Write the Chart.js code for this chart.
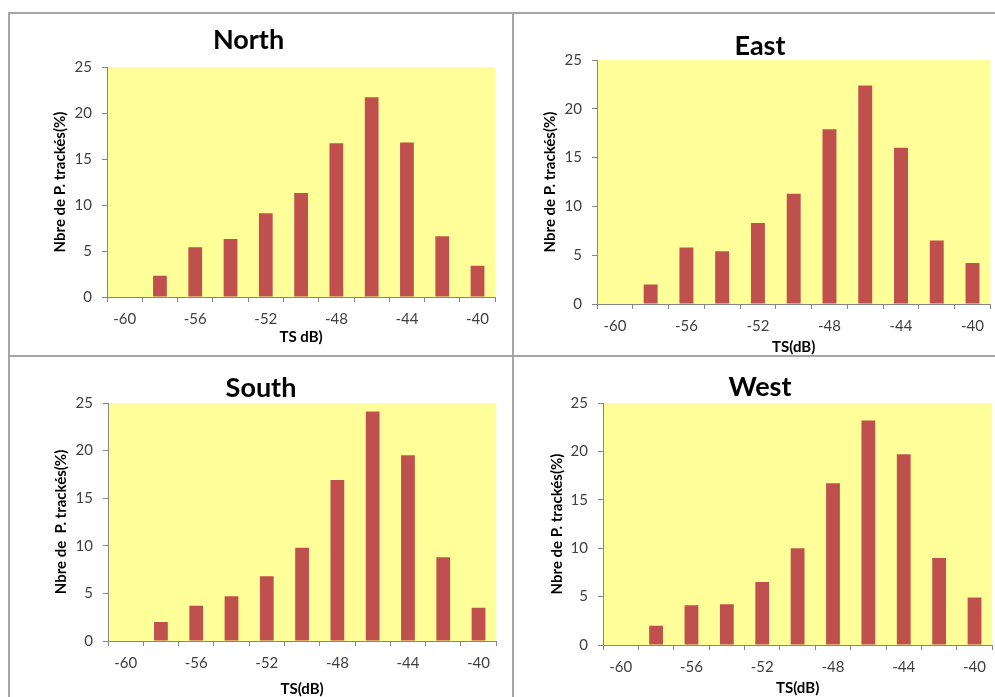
<!DOCTYPE html>
<html>
<head>
<meta charset="utf-8">
<script src="https://cdn.jsdelivr.net/npm/chart.js@4.4.1/dist/chart.umd.min.js"></script>
<style>
  html, body { margin: 0; padding: 0; background: #ffffff; }
  body { width: 995px; height: 697px; position: relative; overflow: hidden; }
  canvas { position: absolute; }
  .ln { position: absolute; background: #a6a6a6; }
</style>
</head>
<body>
<div class="ln" style="left:9px; top:12px; width:990px; height:2px;"></div>
<div class="ln" style="left:8px; top:12px; width:2px; height:690px;"></div>
<div class="ln" style="left:512px; top:12px; width:2px; height:690px;"></div>
<div class="ln" style="left:9px; top:355px; width:990px; height:2px;"></div>

<canvas id="cNorth" width="497" height="342" style="left:0px; top:13px;"></canvas>
<canvas id="cEast" width="464" height="344" style="left:528px; top:13px;"></canvas>
<canvas id="cSouth" width="474" height="340" style="left:24px; top:357px;"></canvas>
<canvas id="cWest" width="468" height="340" style="left:526px; top:357px;"></canvas>

<script>
// ---- data ----
const categories = ['-60', '-58', '-56', '-54', '-52', '-50', '-48', '-46', '-44', '-42', '-40'];
const tickLabels = ['-60', '', '-56', '', '-52', '', '-48', '', '-44', '', '-40'];
const yTicks = [0, 5, 10, 15, 20, 25];

const northValues = [0, 2.3, 5.4, 6.3, 9.1, 11.3, 16.7, 21.7, 16.8, 6.6, 3.4];
const eastValues  = [0, 2.0, 5.8, 5.4, 8.3, 11.3, 17.9, 22.4, 16.0, 6.5, 4.2];
const southValues = [0, 2.0, 3.7, 4.7, 6.8, 9.8, 16.9, 24.1, 19.5, 8.8, 3.5];
const westValues  = [0, 2.0, 4.1, 4.2, 6.5, 10.0, 16.7, 23.2, 19.7, 9.0, 4.9];

const panelTitles = ['North', 'East', 'South', 'West'];
const xTitles = ['TS dB)', 'TS(dB)', 'TS(dB)', 'TS(dB)'];
const yTitles = ['Nbre de P. trackés(%)', 'Nbre de P. trackés(%)', 'Nbre de  P. trackés(%)', 'Nbre de P. trackés(%)'];

// ---- style ----
const FONT = 'Lato, "Open Sans", "DejaVu Sans", sans-serif';
const BAR = '#c0504d';
const PLOT_BG = '#ffff99';
const AXIS = '#868686';
const TICK_TXT = '#404040';

const plotBg = {
  id: 'plotBg',
  beforeDraw(chart) {
    const a = chart.chartArea;
    const ctx = chart.ctx;
    ctx.save();
    ctx.fillStyle = PLOT_BG;
    ctx.fillRect(a.left, a.top, a.right - a.left, a.bottom - a.top);
    ctx.restore();
  }
};

function makeChart(id, idx, values, g) {
  return new Chart(document.getElementById(id), {
    type: 'bar',
    data: {
      labels: categories,
      datasets: [{
        data: values,
        backgroundColor: BAR,
        borderWidth: 0,
        barPercentage: 0.39,
        categoryPercentage: 1.0
      }]
    },
    plugins: [plotBg],
    options: {
      responsive: false,
      animation: false,
      devicePixelRatio: 1,
      layout: { padding: { left: 0, right: g.padRight, top: 0, bottom: 0 } },
      plugins: {
        legend: { display: false },
        tooltip: { enabled: false },
        title: {
          display: true,
          text: panelTitles[idx],
          color: '#000000',
          font: { family: FONT, size: 27, weight: 'bold', lineHeight: 1.0 },
          padding: { top: g.tTop, bottom: g.tBot }
        }
      },
      scales: {
        x: {
          offset: true,
          grid: { display: true, offset: true, drawOnChartArea: false, drawTicks: true, tickLength: 5, color: AXIS },
          border: { display: true, color: AXIS, width: 1 },
          ticks: {
            autoSkip: false, maxRotation: 0, minRotation: 0, padding: 8,
            color: TICK_TXT, font: { family: FONT, size: 15 },
            callback: (v, i) => tickLabels[i]
          },
          title: {
            display: true, text: xTitles[idx], color: '#000000',
            font: { family: FONT, size: 15, weight: 'bold', lineHeight: 1.0 },
            padding: { top: 0, bottom: g.xtBot }
          },
          afterFit: (s) => { s.height = g.xH; }
        },
        y: {
          min: 0, max: 25,
          grid: { display: true, drawOnChartArea: false, drawTicks: true, tickLength: 5, color: AXIS },
          border: { display: true, color: AXIS, width: 1 },
          afterBuildTicks: (s) => { s.ticks = yTicks.map(v => ({ value: v })); },
          ticks: { padding: 10, color: TICK_TXT, font: { family: FONT, size: 15 } },
          title: {
            display: true, text: yTitles[idx], color: '#000000',
            font: { family: FONT, size: 15, weight: 'bold', lineHeight: 1.0 },
            padding: { top: g.ytTop, bottom: 0 }
          },
          afterFit: (s) => { s.width = g.yW; }
        }
      }
    }
  });
}

makeChart('cNorth', 0, northValues, { padRight: 0, tTop: 13.5, tBot: 13.5, xH: 58, xtBot: 10.5, yW: 107, ytTop: 52.5 });
makeChart('cEast', 1, eastValues,   { padRight: 0, tTop: 19.5, tBot: 0.5, xH: 53, xtBot: 2.5, yW: 69, ytTop: 14.2 });
makeChart('cSouth', 2, southValues, { padRight: 0, tTop: 17.5, tBot: 1.5, xH: 56, xtBot: 0, yW: 84, ytTop: 29.2 });
makeChart('cWest', 3, westValues,   { padRight: 0, tTop: 16.5, tBot: 2.5, xH: 52, xtBot: 1.5, yW: 77, ytTop: 23.2 });
</script>
</body>
</html>
